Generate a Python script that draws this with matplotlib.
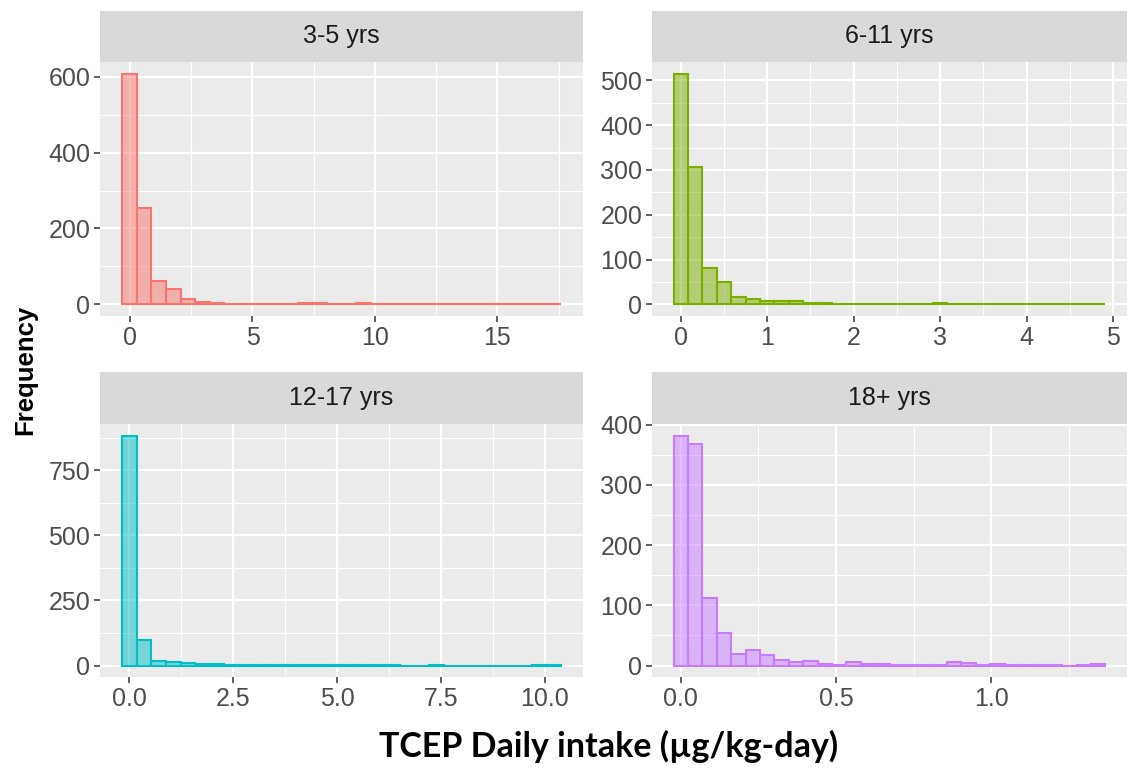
import numpy as np
import matplotlib
matplotlib.use("Agg")
import matplotlib.pyplot as plt
from matplotlib.ticker import FixedLocator

# facet labels and ggplot hue colours
groups = ["3-5 yrs", "6-11 yrs", "12-17 yrs", "18+ yrs"]
colors = ["#F8766D", "#7CAE00", "#00BFC4", "#C77CFF"]

# outer edges of the 30 bins
bin_range_35 = (-0.33, 17.6)
bin_range_611 = (-0.083, 4.91)
bin_range_1217 = (-0.175, 10.39)
bin_range_18 = (-0.023, 1.367)

# bin counts
counts_35 = [608, 253, 62, 40, 14, 7, 3, 2, 2, 2, 1, 2, 3, 3, 1,
             1, 3, 2, 1, 1, 2, 1, 1, 0, 1, 0, 1, 0, 1, 2]
counts_611 = [515, 306, 82, 51, 17, 12, 8, 8, 7, 3, 3, 2, 2, 2, 1,
              2, 1, 2, 3, 1, 1, 1, 1, 0, 1, 1, 0, 1, 1, 2]
counts_1217 = [884, 98, 16, 12, 8, 5, 4, 3, 2, 3, 3, 2, 1, 2, 1,
               1, 1, 1, 1, 0, 0, 1, 0, 0, 0, 0, 0, 0, 1, 3]
counts_18 = [382, 368, 112, 54, 19, 25, 17, 9, 5, 7, 3, 1, 6, 3, 3,
             1, 1, 1, 1, 5, 4, 1, 2, 1, 1, 1, 1, 0, 1, 2]

# axis breaks
xticks_35 = [0, 5, 10, 15]
xlabels_35 = ["0", "5", "10", "15"]
yticks_35 = [0, 200, 400, 600]
xticks_611 = [0, 1, 2, 3, 4, 5]
xlabels_611 = ["0", "1", "2", "3", "4", "5"]
yticks_611 = [0, 100, 200, 300, 400, 500]
xticks_1217 = [0, 2.5, 5, 7.5, 10]
xlabels_1217 = ["0.0", "2.5", "5.0", "7.5", "10.0"]
yticks_1217 = [0, 250, 500, 750]
xticks_18 = [0, 0.5, 1.0]
xlabels_18 = ["0.0", "0.5", "1.0"]
yticks_18 = [0, 100, 200, 300, 400]

panels = [
    (bin_range_35, counts_35, xticks_35, xlabels_35, yticks_35),
    (bin_range_611, counts_611, xticks_611, xlabels_611, yticks_611),
    (bin_range_1217, counts_1217, xticks_1217, xlabels_1217, yticks_1217),
    (bin_range_18, counts_18, xticks_18, xlabels_18, yticks_18),
]

W, H = 1128, 768
fig = plt.figure(figsize=(W / 100, H / 100), dpi=100)
plt.rcParams["font.family"] = ["Liberation Sans", "DejaVu Sans"]

# pixel boxes: (left, right, strip top, panel top, panel bottom)
boxes = [
    (100, 583, 11, 62, 316),
    (652, 1127, 11, 62, 316),
    (100, 583, 372, 424, 677),
    (652, 1127, 372, 424, 677),
]


def frac(l, r, top, bottom):
    return [l / W, 1 - bottom / H, (r - l) / W, (bottom - top) / H]


for i, (box, (rng, counts, xt, xl, yt)) in enumerate(zip(boxes, panels)):
    l, r, st, pt, pb = box
    ax = fig.add_axes(frac(l, r, pt, pb))
    ax.set_facecolor("#EBEBEB")
    edges = np.linspace(rng[0], rng[1], len(counts) + 1)
    ax.bar(edges[:-1], counts, width=np.diff(edges), align="edge",
           facecolor=matplotlib.colors.to_rgba(colors[i], 0.5),
           edgecolor=colors[i], linewidth=1.5, zorder=3)
    span = rng[1] - rng[0]
    ax.set_xlim(rng[0] - 0.05 * span, rng[1] + 0.05 * span)
    ymax = max(counts)
    ax.set_ylim(-0.05 * ymax, 1.05 * ymax)

    ax.set_xticks(xt)
    ax.set_xticklabels(xl)
    ax.set_yticks(yt)
    dx = xt[1] - xt[0]
    dy = yt[1] - yt[0]
    ax.xaxis.set_minor_locator(FixedLocator(np.arange(xt[0] - dx / 2, rng[1] + dx, dx)))
    ax.yaxis.set_minor_locator(FixedLocator(np.arange(yt[0] - dy / 2, ymax * 1.1, dy)))
    ax.grid(which="major", color="white", linewidth=1.6, zorder=0)
    ax.grid(which="minor", color="white", linewidth=0.8, zorder=0)
    ax.set_axisbelow(True)
    ax.tick_params(which="major", length=4, width=1.1, color="#333333",
                   labelsize=18, labelcolor="#4D4D4D", pad=3)
    ax.tick_params(which="minor", length=0)
    for s in ax.spines.values():
        s.set_visible(False)

    # facet strip
    sax = fig.add_axes(frac(l, r, st, pt))
    sax.set_facecolor("#D9D9D9")
    sax.set_xticks([])
    sax.set_yticks([])
    for s in sax.spines.values():
        s.set_visible(False)
    sax.text(0.5, 0.5, groups[i], ha="center", va="center",
             fontsize=18, color="#1A1A1A", transform=sax.transAxes)

fig.text(25 / W, 1 - 370 / H, "Frequency", rotation=90, ha="center",
         va="center", fontsize=18.5, fontweight="bold", color="black")
fig.text(609 / W, 1 - 746 / H, "TCEP Daily intake (µg/kg-day)", ha="center",
         va="center", fontsize=24.5, fontweight="bold", color="black",
         family=["Lato", "DejaVu Sans"])

fig.savefig("out.png", dpi=100)
